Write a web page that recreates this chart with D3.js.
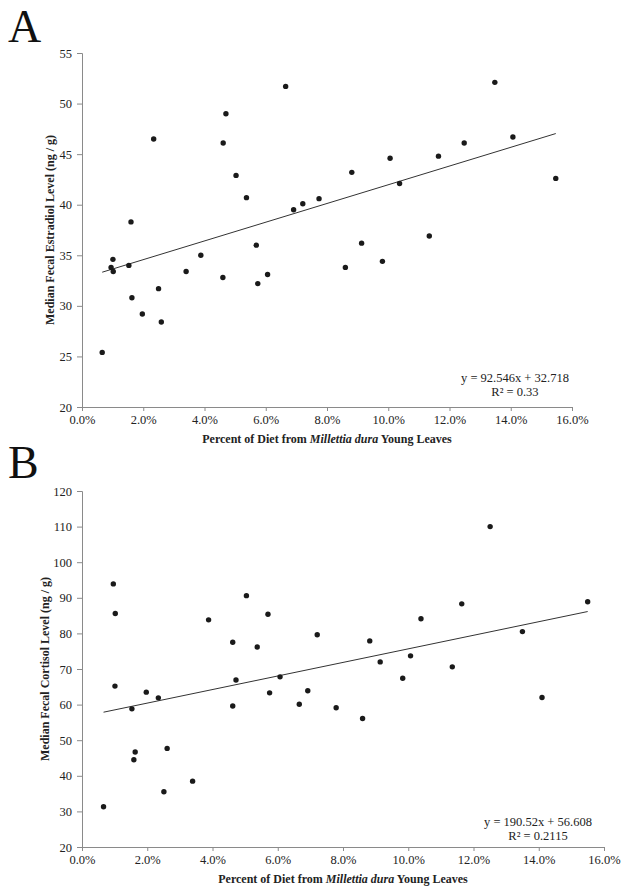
<!DOCTYPE html>
<html>
<head>
<meta charset="utf-8">
<script src="https://cdn.jsdelivr.net/npm/d3@7"></script>
<style>
  html, body { margin: 0; padding: 0; background: #fff; }
  svg text { font-family: "Liberation Serif", "DejaVu Serif", serif; fill: #222; }
</style>
</head>
<body>
<svg id="chart" width="629" height="891"></svg>
<script>
// ---------- Data (x = fraction of diet, y = ng/g) ----------
const estradiolX = [0.0066,0.0095,0.0101,0.0102,0.0153,0.0160,0.0163,0.0197,0.0234,0.0250,0.0259,0.0340,0.0388,0.0460,0.0461,0.0470,0.0503,0.0537,0.0569,0.0574,0.0606,0.0665,0.0691,0.0721,0.0774,0.0860,0.0881,0.0913,0.0981,0.1006,0.1037,0.1134,0.1164,0.1248,0.1348,0.1407,0.1547];
const estradiolY = [25.4,33.8,34.6,33.4,34.0,38.3,30.8,29.2,46.5,31.7,28.4,33.4,35.0,32.8,46.1,49.0,42.9,40.7,36.0,32.2,33.1,51.7,39.5,40.1,40.6,33.8,43.2,36.2,34.4,44.6,42.1,36.9,44.8,46.1,52.1,46.7,42.6];

const cortisolX = [0.0066,0.0096,0.0101,0.0102,0.0153,0.0159,0.0163,0.0197,0.0234,0.0251,0.0261,0.0339,0.0388,0.0462,0.0462,0.0472,0.0504,0.0537,0.0570,0.0575,0.0607,0.0666,0.0692,0.0721,0.0779,0.0860,0.0882,0.0914,0.0983,0.1007,0.1039,0.1135,0.1164,0.1251,0.1350,0.1410,0.1550];
const cortisolY = [31.3,93.9,65.2,85.6,58.8,44.5,46.7,63.5,61.9,35.5,47.7,38.5,83.8,77.5,59.6,66.9,90.6,76.2,85.4,63.3,67.8,60.1,63.9,79.6,59.1,56.1,77.9,72.0,67.4,73.7,84.1,70.6,88.3,110.0,80.5,62.0,88.9];

const xTicks = [0,0.02,0.04,0.06,0.08,0.10,0.12,0.14,0.16];
const estradiolTicks = [20,25,30,35,40,45,50,55];
const cortisolTicks = [20,30,40,50,60,70,80,90,100,110,120];

const estradiolFit = { slope: 92.546, intercept: 32.718, eq: "y = 92.546x + 32.718", r2: "R² = 0.33" };
const cortisolFit  = { slope: 190.52, intercept: 56.608, eq: "y = 190.52x + 56.608", r2: "R² = 0.2115" };

const xLabelParts = [["Percent of Diet from ", "normal"], ["Millettia dura", "italic"], [" Young Leaves", "normal"]];

// ---------- Drawing ----------
const svg = d3.select("#chart");
const axisColor = "#8a8a8a";

function drawPanel(o) {
  const g = svg.append("g");
  const x = d3.scaleLinear().domain([0, 0.16]).range([o.left, o.right]);
  const y = d3.scaleLinear().domain(o.yDomain).range([o.bottom, o.top]);

  // panel letter
  g.append("text").attr("x", 8).attr("y", o.letterY)
    .style("font-size", "46px").style("fill", "#111").text(o.letter);

  // x axis
  const xa = g.append("g").attr("transform", `translate(0,${o.bottom})`)
    .call(d3.axisBottom(x).tickValues(xTicks).tickFormat(d3.format(".1%")).tickSizeOuter(0).tickSize(4).tickPadding(4));
  // y axis
  const ya = g.append("g").attr("transform", `translate(${o.left},0)`)
    .call(d3.axisLeft(y).tickValues(o.yTicks).tickSizeOuter(0).tickSize(5).tickPadding(5));
  [xa, ya].forEach(a => {
    a.select(".domain").attr("stroke", axisColor);
    a.selectAll(".tick line").attr("stroke", axisColor);
    a.selectAll(".tick text").style("font-size", "12.5px").style("font-family", '"Liberation Serif", serif').attr("fill", "#333");
  });

  // trend line
  const xs = d3.extent(o.xs);
  g.append("line")
    .attr("x1", x(xs[0])).attr("y1", y(o.fit.slope * xs[0] + o.fit.intercept))
    .attr("x2", x(xs[1])).attr("y2", y(o.fit.slope * xs[1] + o.fit.intercept))
    .attr("stroke", "#333").attr("stroke-width", 1);

  // points
  g.selectAll("circle.pt").data(o.xs.map((d, i) => [d, o.ys[i]])).join("circle")
    .attr("class", "pt")
    .attr("cx", d => x(d[0])).attr("cy", d => y(d[1])).attr("r", 2.7)
    .attr("fill", "#1a1a1a");

  // equation
  const ex = o.eqX;
  g.append("text").attr("x", ex).attr("y", o.eqY).attr("text-anchor", "middle")
    .style("font-size", "12.5px").text(o.fit.eq);
  g.append("text").attr("x", ex).attr("y", o.eqY + 14).attr("text-anchor", "middle")
    .style("font-size", "12.5px").text(o.fit.r2);

  // x label
  const xl = g.append("text").attr("x", (o.left + o.right) / 2).attr("y", o.bottom + 36)
    .attr("text-anchor", "middle").style("font-size", "12px").style("font-weight", "bold");
  xLabelParts.forEach(p => xl.append("tspan").style("font-style", p[1]).text(p[0]));

  // y label
  g.append("text")
    .attr("transform", `translate(${o.yLabelX},${(o.top + o.bottom) / 2}) rotate(-90)`)
    .attr("text-anchor", "middle").style("font-size", "12px").style("font-weight", "bold")
    .text(o.yLabel);
}

drawPanel({
  letter: "A", letterY: 42,
  left: 82, right: 572, top: 53, bottom: 407,
  yDomain: [20, 55], yTicks: estradiolTicks,
  xs: estradiolX, ys: estradiolY, fit: estradiolFit,
  eqX: 515, eqY: 382,
  yLabel: "Median Fecal Estradiol Level (ng / g)", yLabelX: 54
});

drawPanel({
  letter: "B", letterY: 478,
  left: 82, right: 604, top: 491, bottom: 847,
  yDomain: [20, 120], yTicks: cortisolTicks,
  xs: cortisolX, ys: cortisolY, fit: cortisolFit,
  eqX: 538, eqY: 826,
  yLabel: "Median Fecal Cortisol Level (ng / g)", yLabelX: 49
});
</script>
</body>
</html>
